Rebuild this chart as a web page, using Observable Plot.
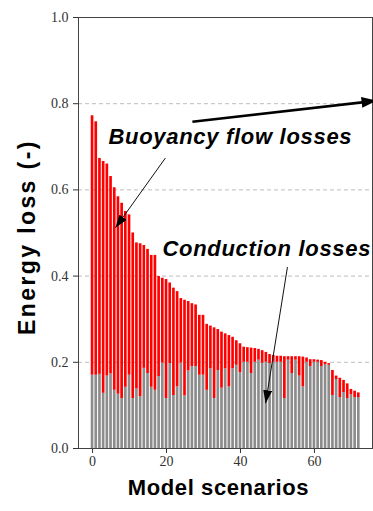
<!DOCTYPE html>
<html><head><meta charset="utf-8">
<script src="https://cdn.jsdelivr.net/npm/d3@7"></script>
<script src="https://cdn.jsdelivr.net/npm/@observablehq/plot@0.6"></script>
<style>body{margin:0;background:#fff}#chart{width:373px;height:511px;overflow:hidden}</style>
</head><body><div id="chart"></div>
<script>
// Total energy loss (conduction + buoyancy flow) per model scenario
const totalLoss = [0.772,0.758,0.673,0.666,0.660,0.631,0.605,0.584,0.569,0.550,0.542,0.500,0.477,0.475,0.471,0.462,0.448,0.448,0.399,0.395,0.392,0.384,0.372,0.364,0.348,0.344,0.341,0.336,0.333,0.309,0.309,0.288,0.284,0.280,0.276,0.270,0.266,0.262,0.258,0.250,0.243,0.235,0.234,0.233,0.232,0.230,0.227,0.223,0.218,0.216,0.214,0.214,0.213,0.213,0.213,0.213,0.213,0.212,0.210,0.206,0.206,0.205,0.204,0.200,0.197,0.181,0.168,0.163,0.158,0.150,0.137,0.133,0.129];
// Conduction losses (grey part) per scenario
const conductionLoss = [0.170,0.170,0.172,0.128,0.168,0.173,0.135,0.126,0.116,0.142,0.170,0.116,0.138,0.120,0.186,0.174,0.142,0.135,0.167,0.198,0.116,0.197,0.123,0.143,0.198,0.122,0.180,0.190,0.190,0.170,0.170,0.135,0.185,0.116,0.181,0.140,0.185,0.143,0.185,0.193,0.176,0.200,0.200,0.174,0.200,0.205,0.198,0.200,0.197,0.200,0.200,0.200,0.116,0.205,0.174,0.205,0.168,0.143,0.200,0.190,0.200,0.200,0.190,0.195,0.193,0.123,0.160,0.118,0.130,0.116,0.125,0.118,0.118];
const yTicks = [0, 0.2, 0.4, 0.6, 0.8, 1.0];
const xTicks = [0, 20, 40, 60];
const gridLevels = [0.2, 0.4, 0.6, 0.8];
const labelTexts = ["Buoyancy flow losses", "Conduction losses"];
const labelX = [4.3, 18.9];
const labelY = [0.724, 0.463];
// annotation arrows (data coordinates): start -> tip
const thinArrowX1 = [19.7, 52.7], thinArrowY1 = [0.674, 0.421];
const thinArrowX2 = [6.2, 46.8],  thinArrowY2 = [0.512, 0.105];
const thickArrowX1 = [27.0], thickArrowY1 = [0.758];
const thickArrowX2 = [76.8], thickArrowY2 = [0.807];
const xTitle = "Model scenarios";
const yTitle = "Energy loss (-)";

const data = totalLoss.map((t, i) => ({scenario: i, total: t, conduction: conductionLoss[i]}));
const labels = labelTexts.map((t, i) => ({text: t, x: labelX[i], y: labelY[i]}));
const thin = thinArrowX1.map((_, i) => ({x1: thinArrowX1[i], y1: thinArrowY1[i], x2: thinArrowX2[i], y2: thinArrowY2[i]}));
const thick = thickArrowX1.map((_, i) => ({x1: thickArrowX1[i], y1: thickArrowY1[i], x2: thickArrowX2[i], y2: thickArrowY2[i]}));
const hw = 0.36;

const chart = Plot.plot({
  width: 373, height: 511,
  marginLeft: 78, marginRight: 1, marginTop: 17, marginBottom: 63,
  style: {fontFamily: "'Liberation Serif', serif", fontSize: "14px", color: "#333", background: "#fff", overflow: "visible"},
  x: {domain: [-3.8, 75.7], ticks: xTicks, tickSize: 5, tickPadding: 3, label: null},
  y: {domain: [0, 1], ticks: yTicks, tickFormat: ".1f", tickSize: 5, tickPadding: 5, label: null},
  marks: [
    Plot.ruleY(gridLevels, {stroke: "#bdbdbd", strokeDasharray: "4,3"}),
    Plot.rect(data, {x1: d => d.scenario - hw, x2: d => d.scenario + hw, y1: 0, y2: "conduction", fill: "#8c8c8c"}),
    Plot.rect(data, {x1: d => d.scenario - hw, x2: d => d.scenario + hw, y1: "conduction", y2: "total", fill: "#ff0000"}),
    Plot.frame({stroke: "#444"}),
    Plot.link(thin, {x1: "x1", y1: "y1", x2: "x2", y2: "y2", stroke: "#111", strokeWidth: 1}),
    Plot.link(thick, {x1: "x1", y1: "y1", x2: "x2", y2: "y2", stroke: "#000", strokeWidth: 2.6}),
    Plot.text(labels, {x: "x", y: "y", text: "text", textAnchor: "start", fontFamily: "'Liberation Sans', Arial, sans-serif", fontWeight: "bold", fontStyle: "italic", fontSize: 22, fill: "#000"}),
    Plot.text([yTitle], {frameAnchor: "left", textAnchor: "start", dx: -51, dy: 102, rotate: -90, fontFamily: "'Liberation Sans', Arial, sans-serif", fontWeight: "bold", fontSize: 23, fill: "#000"}),
    Plot.text([xTitle], {frameAnchor: "bottom", dx: -7, dy: 46, fontFamily: "'Liberation Sans', Arial, sans-serif", fontWeight: "bold", fontSize: 22, fill: "#000"})
  ]
});

// filled triangular arrow heads
const svg = d3.select(chart.tagName.toLowerCase() === "svg" ? chart : chart.querySelector("svg"));
const defs = svg.insert("defs", ":first-child");
function head(id, len, wid) {
  defs.append("marker").attr("id", id).attr("markerUnits", "userSpaceOnUse")
    .attr("viewBox", `0 0 ${len} ${wid}`).attr("refX", len).attr("refY", wid / 2)
    .attr("markerWidth", len).attr("markerHeight", wid).attr("orient", "auto")
    .append("path").attr("d", `M0,0L${len},${wid / 2}L0,${wid}Z`).attr("fill", "#000");
}
head("head-thin", 13, 9);
head("head-thick", 15, 11);
const linkGroups = svg.selectAll("g[aria-label='link']").nodes();
d3.select(linkGroups[0]).selectAll("path").attr("marker-end", "url(#head-thin)");
d3.select(linkGroups[1]).selectAll("path").attr("marker-end", "url(#head-thick)");
const textGroups = svg.selectAll("g[aria-label='text']").nodes();
d3.select(textGroups[0]).selectAll("text").attr("letter-spacing", "0.7px");
d3.select(textGroups[1]).selectAll("text").attr("letter-spacing", "2.4px");
d3.select(textGroups[2]).selectAll("text").attr("letter-spacing", "0.6px");

document.getElementById("chart").appendChild(chart);
</script>
</body></html>
